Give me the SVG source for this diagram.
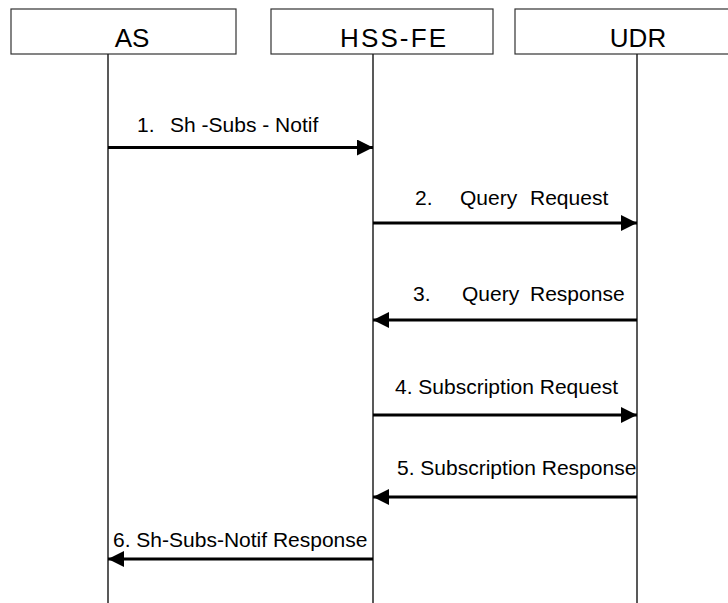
<svg xmlns="http://www.w3.org/2000/svg" width="728" height="603" viewBox="0 0 728 603">
<style>
.box{fill:#fff;stroke:#333;stroke-width:1.2}
.hdr{font-family:"Liberation Sans",Arial,sans-serif;font-size:26px;fill:#000;text-anchor:middle}
.life{stroke:#222;stroke-width:1.5;fill:none}
.msg{stroke:#000;stroke-width:3;fill:none}
.lbl{font-family:"Liberation Sans",Arial,sans-serif;font-size:21px;fill:#000}
</style>
<defs>
<marker id="ah" markerWidth="16" markerHeight="16" viewBox="0 0 16 16" refX="16" refY="8" orient="auto" markerUnits="userSpaceOnUse">
<path d="M0,0 L16,8 L0,16 Z" fill="#000"/>
</marker>
</defs>
<rect width="728" height="603" fill="#fff"/>
<g id="AS">
<rect class="box" x="11" y="9" width="225" height="45"/>
<text class="hdr" x="132" y="47">AS</text>
<line class="life" x1="108" y1="54" x2="108" y2="603"/>
</g>
<g id="HSS-FE">
<rect class="box" x="271" y="9" width="222" height="45"/>
<text class="hdr" x="393" y="47" textLength="106" lengthAdjust="spacing">HSS-FE</text>
<line class="life" x1="373" y1="54" x2="373" y2="603"/>
</g>
<g id="UDR">
<rect class="box" x="515" y="9" width="220" height="45"/>
<text class="hdr" x="638" y="47">UDR</text>
<line class="life" x1="637" y1="54" x2="637" y2="603"/>
</g>
<g id="connectors">
<line class="msg" x1="108" y1="147.5" x2="373" y2="147.5" marker-end="url(#ah)"/>
<line class="msg" x1="373" y1="223" x2="637" y2="223" marker-end="url(#ah)"/>
<line class="msg" x1="637" y1="320" x2="373" y2="320" marker-end="url(#ah)"/>
<line class="msg" x1="373" y1="415" x2="637" y2="415" marker-end="url(#ah)"/>
<line class="msg" x1="637" y1="497" x2="373" y2="497" marker-end="url(#ah)"/>
<line class="msg" x1="373" y1="559" x2="108" y2="559" marker-end="url(#ah)"/>
</g>
<g id="labels">
<text class="lbl" y="132"><tspan x="137">1.</tspan><tspan x="170">Sh -Subs - Notif</tspan></text>
<text class="lbl" y="205"><tspan x="415">2.</tspan><tspan x="460">Query</tspan><tspan x="530">Request</tspan></text>
<text class="lbl" y="301"><tspan x="413">3.</tspan><tspan x="462">Query</tspan><tspan x="530">Response</tspan></text>
<text class="lbl" x="395" y="394">4. Subscription Request</text>
<text class="lbl" x="397" y="475">5. Subscription Response</text>
<text class="lbl" x="113" y="547">6. Sh-Subs-Notif Response</text>
</g>
</svg>
